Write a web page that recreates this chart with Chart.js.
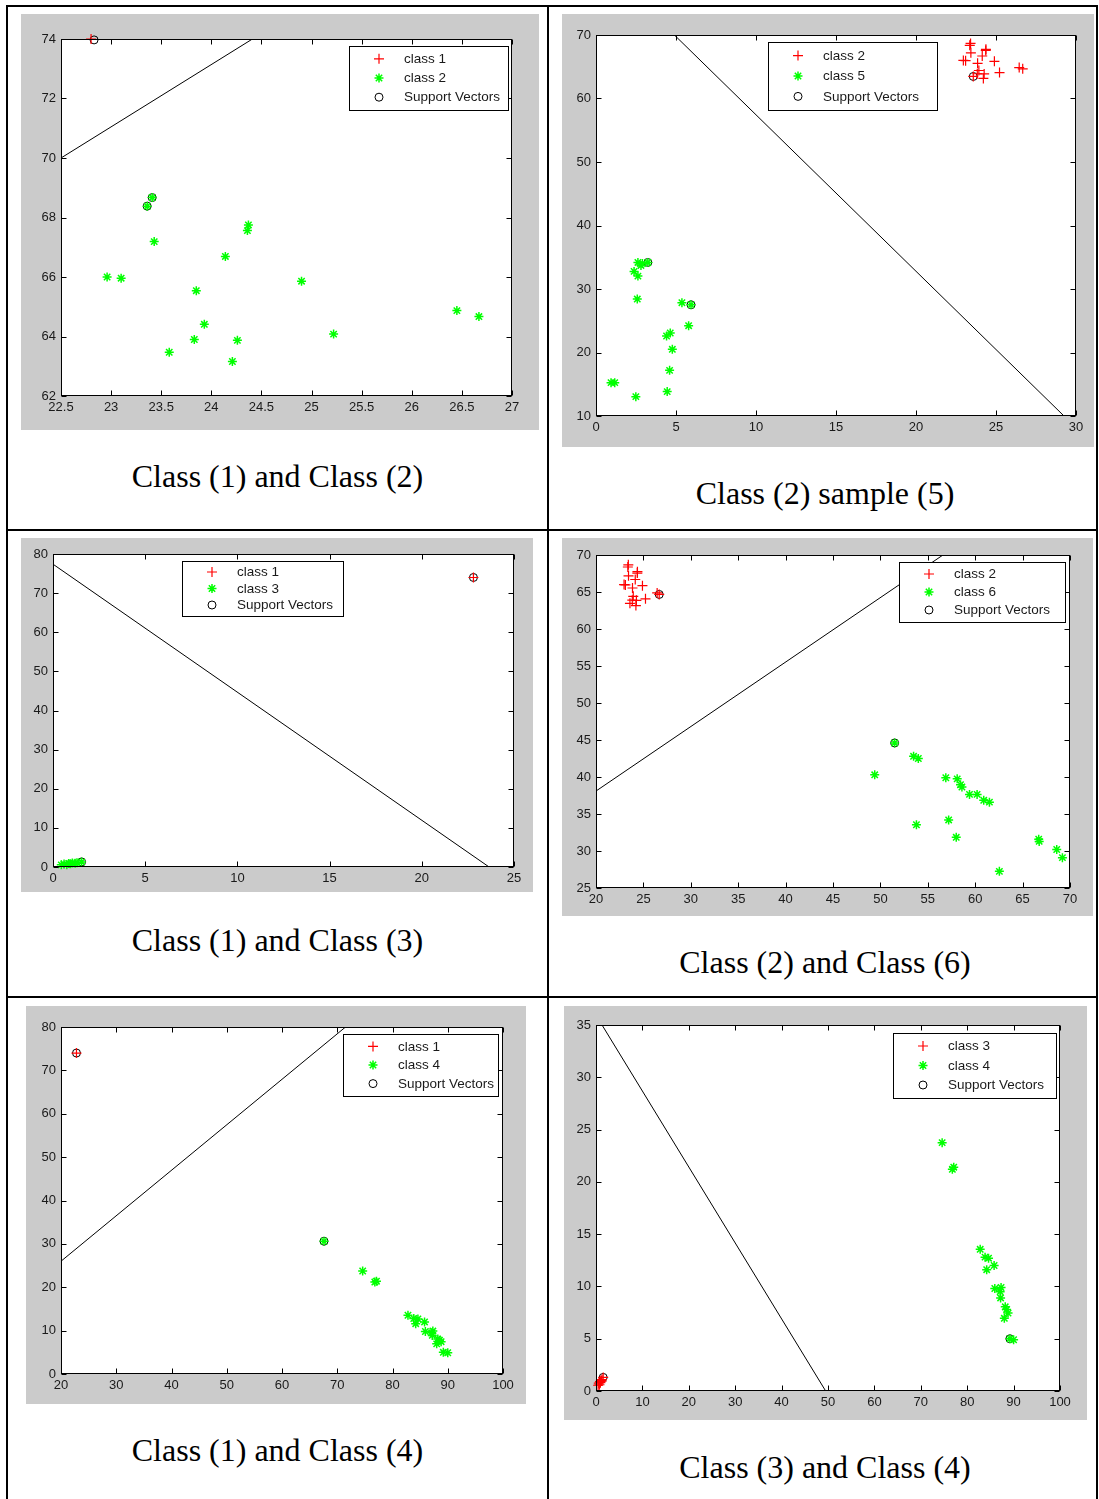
<!DOCTYPE html>
<html>
<head>
<meta charset="utf-8">
<title>Class pairs with support vectors</title>
<script src="https://cdn.jsdelivr.net/npm/chart.js@4.4.1/dist/chart.umd.min.js"></script>
<style>
  body { margin: 0; background: #fff; }
  #page { position: relative; width: 1099px; height: 1499px; overflow: hidden; }
  .rule { position: absolute; background: #000; }
  canvas { position: absolute; background: #cbcbcb; }
  .caption {
    position: absolute;
    font-family: 'Liberation Serif', 'Times New Roman', serif;
    font-size: 32px;
    line-height: 36px;
    text-align: center;
    color: #000;
  }
</style>
</head>
<body>
<div id="page">
  <!-- table rules -->
  <div class="rule" style="left:6px; top:5px; width:1092px; height:2px;"></div>
  <div class="rule" style="left:6px; top:5px; width:2px; height:1494px;"></div>
  <div class="rule" style="left:1096px; top:5px; width:2px; height:1494px;"></div>
  <div class="rule" style="left:547px; top:5px; width:2px; height:1494px;"></div>
  <div class="rule" style="left:6px; top:529px; width:1092px; height:2px;"></div>
  <div class="rule" style="left:6px; top:996px; width:1092px; height:2px;"></div>

  <canvas id="c12"></canvas>
  <canvas id="c25"></canvas>
  <canvas id="c13"></canvas>
  <canvas id="c26"></canvas>
  <canvas id="c14"></canvas>
  <canvas id="c34"></canvas>

  <div class="caption" style="left:8px; width:539px; top:458px;">Class (1) and Class (2)</div>
  <div class="caption" style="left:551px; width:548px; top:475px;">Class (2) sample (5)</div>
  <div class="caption" style="left:8px; width:539px; top:922px;">Class (1) and Class (3)</div>
  <div class="caption" style="left:551px; width:548px; top:944px;">Class (2) and Class (6)</div>
  <div class="caption" style="left:8px; width:539px; top:1432px;">Class (1) and Class (4)</div>
  <div class="caption" style="left:551px; width:548px; top:1449px;">Class (3) and Class (4)</div>
</div>
<script>
// ---- class samples [x, y] ----
const class1 = [[22.8, 74.0]];
const class2 = [
  [23.36, 68.38], [23.41, 68.67], [23.43, 67.19], [22.96, 66.00], [23.10, 65.96],
  [24.14, 66.69], [24.37, 67.75], [24.36, 67.56], [23.85, 65.54], [23.93, 64.41],
  [23.83, 63.90], [23.58, 63.47], [24.26, 63.87], [24.21, 63.16], [24.90, 65.86],
  [25.22, 64.08], [26.45, 64.87], [26.67, 64.67]
];
const class3 = [
  [0.45, 0.55], [0.6, 0.75], [0.75, 0.6], [0.85, 0.9], [0.95, 0.8],
  [1.05, 1.0], [1.2, 0.95], [1.3, 1.1], [1.55, 1.3]
];
const class4 = [
  [67.6, 30.6], [74.6, 23.75], [76.8, 21.2], [77.1, 21.4], [82.8, 13.55],
  [83.85, 12.8], [84.6, 12.7], [84.2, 11.6], [85.8, 12.0], [85.95, 9.8],
  [87.1, 9.5], [87.3, 9.9], [87.2, 8.9], [88.2, 8.05], [88.5, 7.8],
  [88.0, 6.95], [88.8, 7.45], [89.2, 5.0], [90.0, 4.9]
];
const class5 = [
  [0.94, 15.25], [1.17, 15.25], [2.49, 13.05], [4.45, 13.84], [4.60, 17.19],
  [4.77, 20.5], [4.41, 22.6], [4.64, 23.07], [5.79, 24.22], [5.37, 27.84],
  [5.94, 27.52], [2.58, 28.42], [2.38, 32.77], [2.62, 32.03], [2.62, 34.18],
  [2.81, 33.71], [2.9, 34.0], [3.24, 34.18]
];
const class6 = [
  [51.5, 44.6], [49.4, 40.3], [53.5, 42.8], [54.0, 42.5], [56.9, 39.9],
  [58.1, 39.75], [58.45, 38.95], [58.6, 38.65], [59.4, 37.65], [60.2, 37.65],
  [60.9, 36.85], [61.5, 36.6], [53.8, 33.55], [57.2, 34.2], [58.0, 31.85],
  [66.7, 31.6], [66.75, 31.3], [68.6, 30.2], [69.2, 29.1], [62.55, 27.25]
];

// ---- support vectors per pair ----
const sv12 = [[22.83, 73.97], [23.36, 68.38], [23.41, 68.67]];
const sv25 = [[23.58, 63.47], [3.24, 34.18], [5.94, 27.52]];
const sv13 = [[22.8, 74.0], [1.55, 1.3]];
const sv26 = [[26.67, 64.67], [51.5, 44.6]];
const sv14 = [[22.8, 74.0], [67.6, 30.6]];
const sv34 = [[1.55, 1.3], [89.2, 5.0]];

// ---- separating lines (end points) ----
const line12 = [[22.5, 70.0], [24.41, 74.0]];
const line25 = [[4.9, 70.0], [29.25, 10.0]];
const line13 = [[0, 77.4], [23.65, 0]];
const line26 = [[20, 38.1], [56.6, 70.0]];
const line14 = [[20, 26.0], [71.5, 80.0]];
const line34 = [[1.3, 35.0], [49.5, 0]];

// ---- tick labels ----
const xTicks12 = [22.5, 23, 23.5, 24, 24.5, 25, 25.5, 26, 26.5, 27];
const yTicks12 = [62, 64, 66, 68, 70, 72, 74];
const xTicks25 = [0, 5, 10, 15, 20, 25, 30];
const yTicks25 = [10, 20, 30, 40, 50, 60, 70];
const xTicks13 = [0, 5, 10, 15, 20, 25];
const yTicks13 = [0, 10, 20, 30, 40, 50, 60, 70, 80];
const xTicks26 = [20, 25, 30, 35, 40, 45, 50, 55, 60, 65, 70];
const yTicks26 = [25, 30, 35, 40, 45, 50, 55, 60, 65, 70];
const xTicks14 = [20, 30, 40, 50, 60, 70, 80, 90, 100];
const yTicks14 = [0, 10, 20, 30, 40, 50, 60, 70, 80];
const xTicks34 = [0, 10, 20, 30, 40, 50, 60, 70, 80, 90, 100];
const yTicks34 = [0, 5, 10, 15, 20, 25, 30, 35];

Chart.defaults.font.family = "'Liberation Sans', Arial, sans-serif";
Chart.defaults.font.size = 13;
Chart.defaults.color = '#1a1a1a';

function drawMarker(ctx, style, x, y, r, color, lw) {
    ctx.save();
    ctx.strokeStyle = color;
    ctx.lineWidth = lw;
    ctx.beginPath();
    if (style === 'circle') {
        ctx.arc(x, y, r, 0, Math.PI * 2);
    } else {
        ctx.moveTo(x - r, y); ctx.lineTo(x + r, y);
        ctx.moveTo(x, y - r); ctx.lineTo(x, y + r);
        if (style === 'star') {
            const d = r * 0.7071;
            ctx.moveTo(x - d, y - d); ctx.lineTo(x + d, y + d);
            ctx.moveTo(x - d, y + d); ctx.lineTo(x + d, y - d);
        }
    }
    ctx.stroke();
    ctx.restore();
}

// white axes box, inward ticks on all four sides, boxed legend
const matlabAxes = {
    id: 'matlabAxes',
    beforeDraw(chart) {
        const { ctx, chartArea: a } = chart;
        ctx.save();
        ctx.fillStyle = '#fff';
        ctx.fillRect(a.left, a.top, a.right - a.left, a.bottom - a.top);
        ctx.restore();
    },
    afterDraw(chart, args, opts) {
        const { ctx, chartArea: a, scales } = chart;
        const L = Math.round(a.left) + 0.5, R = Math.round(a.right) - 0.5;
        const T = Math.round(a.top) + 0.5, B = Math.round(a.bottom) - 0.5;
        ctx.save();
        ctx.strokeStyle = '#000';
        ctx.lineWidth = 1;
        ctx.beginPath();
        scales.x.ticks.forEach(t => {
            const px = Math.round(scales.x.getPixelForValue(t.value)) + 0.5;
            ctx.moveTo(px, B); ctx.lineTo(px, B - 5);
            ctx.moveTo(px, T); ctx.lineTo(px, T + 5);
        });
        scales.y.ticks.forEach(t => {
            const py = Math.round(scales.y.getPixelForValue(t.value)) + 0.5;
            ctx.moveTo(L, py); ctx.lineTo(L + 5, py);
            ctx.moveTo(R, py); ctx.lineTo(R - 5, py);
        });
        ctx.stroke();
        ctx.strokeRect(L, T, R - L, B - T);

        const lg = opts.legend;
        if (lg) {
            ctx.fillStyle = '#fff';
            ctx.fillRect(lg.left, lg.top, lg.width, lg.height);
            ctx.strokeRect(lg.left + 0.5, lg.top + 0.5, lg.width, lg.height);
            const items = chart.data.datasets.filter(ds => !ds.isBoundary);
            items.forEach((ds, i) => {
                const y = lg.top + lg.height * (0.2 + 0.3 * i);
                drawMarker(ctx, ds.pointStyle, lg.left + 30, y, ds.pointRadius, ds.pointBorderColor, ds.pointBorderWidth);
                ctx.fillStyle = '#1a1a1a';
                ctx.font = "13.5px 'Liberation Sans', Arial, sans-serif";
                ctx.textAlign = 'left';
                ctx.textBaseline = 'middle';
                ctx.fillText(ds.label, lg.left + 55, y + 0.5);
            });
        }
        ctx.restore();
    }
};

const toXY = pts => pts.map(p => ({ x: p[0], y: p[1] }));

function plusSet(label, pts) {
    return { label, data: toXY(pts), pointStyle: 'cross', pointRadius: 5, pointBorderColor: '#ff0000',
             pointBackgroundColor: '#ff0000', pointBorderWidth: 1.2, showLine: false, clip: false };
}
function starSet(label, pts) {
    return { label, data: toXY(pts), pointStyle: 'star', pointRadius: 4.5, pointBorderColor: '#00ff00',
             pointBackgroundColor: '#00ff00', pointBorderWidth: 1.5, showLine: false, clip: false };
}
function svSet(pts) {
    return { label: 'Support Vectors', data: toXY(pts), pointStyle: 'circle', pointRadius: 4,
             pointBorderColor: '#000000', pointBackgroundColor: 'rgba(0,0,0,0)', pointBorderWidth: 1,
             showLine: false, clip: false };
}
function lineSet(pts) {
    return { data: toXY(pts), isBoundary: true, showLine: true, borderColor: '#000000', borderWidth: 1,
             pointRadius: 0, fill: false };
}

// box = grey panel, plot = [left, top, right, bottom], legend = [left, top, w, h]  (page pixels)
function makePanel(id, box, plot, legend, xTicks, yTicks, datasets) {
    const cv = document.getElementById(id);
    cv.style.left = box[0] + 'px';
    cv.style.top = box[1] + 'px';
    cv.width = box[2];
    cv.height = box[3];
    const padLeft = plot[0] - box[0];
    const padBottom = box[1] + box[3] - plot[3];
    return new Chart(cv, {
        type: 'scatter',
        data: { datasets },
        options: {
            responsive: false,
            animation: false,
            events: [],
            layout: { padding: { left: 0, bottom: 0, top: plot[1] - box[1], right: box[0] + box[2] - plot[2] } },
            plugins: {
                legend: { display: false },
                tooltip: { enabled: false },
                matlabAxes: { legend: { left: legend[0] - box[0], top: legend[1] - box[1], width: legend[2], height: legend[3] } }
            },
            scales: {
                x: {
                    type: 'linear', min: xTicks[0], max: xTicks[xTicks.length - 1],
                    grid: { display: false, drawTicks: false }, border: { display: false },
                    afterBuildTicks: s => { s.ticks = xTicks.map(v => ({ value: v })); },
                    afterFit: s => { s.height = padBottom; },
                    ticks: { autoSkip: false, maxRotation: 0, padding: 4, callback: v => String(v) }
                },
                y: {
                    type: 'linear', min: yTicks[0], max: yTicks[yTicks.length - 1],
                    grid: { display: false, drawTicks: false }, border: { display: false },
                    afterBuildTicks: s => { s.ticks = yTicks.map(v => ({ value: v })); },
                    afterFit: s => { s.width = padLeft; },
                    ticks: { autoSkip: false, padding: 5, callback: v => String(v) }
                }
            }
        },
        plugins: [matlabAxes]
    });
}

makePanel('c12', [21, 14, 518, 416], [61, 39, 512, 396], [349, 46, 159, 64], xTicks12, yTicks12,
    [plusSet('class 1', class1), starSet('class 2', class2), svSet(sv12), lineSet(line12)]);
makePanel('c25', [562, 14, 532, 433], [596, 35, 1076, 416], [768, 42, 169, 68], xTicks25, yTicks25,
    [plusSet('class 2', class2), starSet('class 5', class5), svSet(sv25), lineSet(line25)]);
makePanel('c13', [21, 538, 512, 354], [53, 554, 514, 867], [182, 561, 161, 55], xTicks13, yTicks13,
    [plusSet('class 1', class1), starSet('class 3', class3), svSet(sv13), lineSet(line13)]);
makePanel('c26', [562, 538, 531, 378], [596, 555, 1070, 888], [899, 562, 166, 60], xTicks26, yTicks26,
    [plusSet('class 2', class2), starSet('class 6', class6), svSet(sv26), lineSet(line26)]);
makePanel('c14', [26, 1006, 500, 398], [61, 1027, 503, 1374], [343, 1034, 155, 62], xTicks14, yTicks14,
    [plusSet('class 1', class1), starSet('class 4', class4), svSet(sv14), lineSet(line14)]);
makePanel('c34', [564, 1006, 523, 414], [596, 1025, 1060, 1391], [893, 1033, 163, 65], xTicks34, yTicks34,
    [plusSet('class 3', class3), starSet('class 4', class4), svSet(sv34), lineSet(line34)]);
</script>
</body>
</html>
